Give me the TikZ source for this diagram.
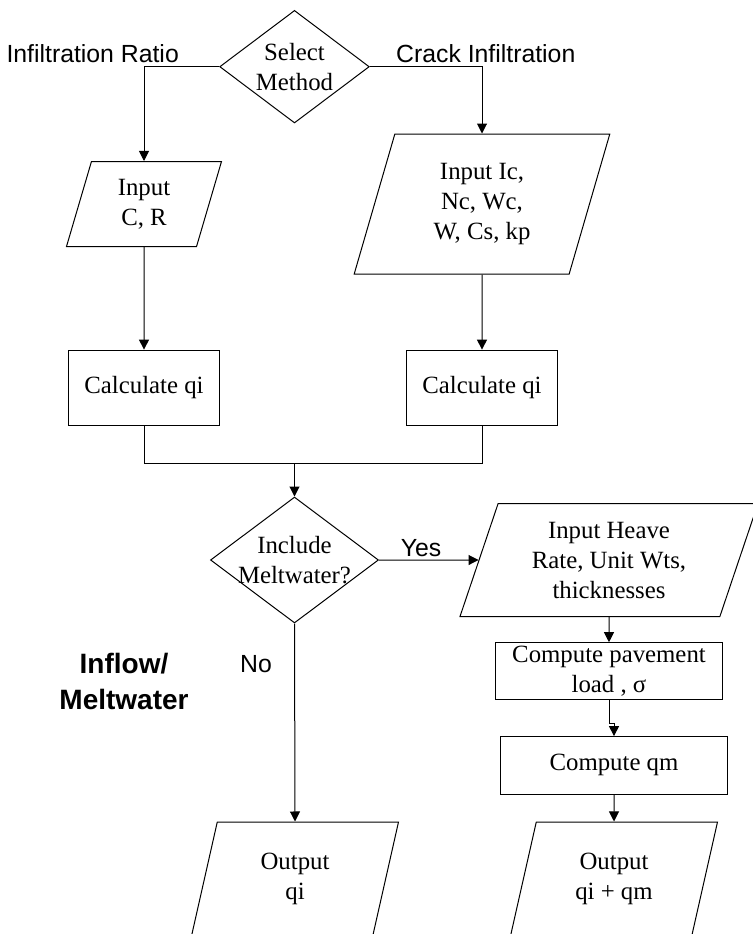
\documentclass[tikz,border=0pt]{standalone}
\usepackage{fontspec}
\setmainfont{Liberation Serif}
\setsansfont{Liberation Sans}
\usetikzlibrary{shapes.geometric,arrows.meta}

\begin{document}
\begin{tikzpicture}[
    x=0.5pt, y=-0.5pt,
    line width=0.5pt,
    every node/.style={font=\fontsize{12.4}{15}\selectfont, align=center},
    process/.style={draw, rectangle, inner sep=0pt},
    io/.style={draw, trapezium, trapezium left angle=63.5, trapezium right angle=116.5,
               trapezium stretches body, inner sep=0pt},
    decision/.style={draw, diamond, inner sep=0pt},
    lbl/.style={font=\sffamily\fontsize{12.4}{15}\selectfont},
    arr/.style={-{Triangle[length=5pt,width=5pt]}}]

\useasboundingbox (0,0) rectangle (752,934);

\node[decision, minimum width=74.8pt, minimum height=56.3pt] (sel) at (294.5,66.7) {};
\node (selTxt) at (sel) {Select\\Method};
\node[lbl, anchor=east] (ratio) at (186,54) {Infiltration Ratio};
\node[lbl, anchor=west] (crack) at (389,54) {Crack Infiltration};

\node[io, minimum width=77.5pt, minimum height=42.5pt] (incr) at (144,204) {Input\\C, R};
\node[io, minimum width=127.8pt, minimum height=70pt] (inic) at (482,204) {Input Ic,\\Nc, Wc,\\W, Cs, kp};

\node[process, minimum width=75.3pt, minimum height=37.6pt] (calcL) at (144,387.7) {Calculate qi};
\node[process, minimum width=75.3pt, minimum height=37.6pt] (calcR) at (482,387.7) {Calculate qi};
\coordinate (join) at (294.5,463.3);

\node[decision, minimum width=84pt, minimum height=63pt] (melt) at (294.5,560) {};
\node (meltTxt) at (melt) {Include\\Meltwater?};
\node[lbl] (yes) at (421,548) {Yes};
\node[lbl] (no) at (256,664) {No};
\node[lbl, font=\sffamily\bfseries\fontsize{14}{18}\selectfont] (inflow) at (124,681) {Inflow/\\Meltwater};

\node[io, minimum width=149pt, minimum height=56.5pt] (heave) at (609,560) {Input Heave\\Rate, Unit Wts,\\thicknesses};
\node[process, minimum width=113.9pt, minimum height=28.3pt] (pave) at (609,671) {Compute pavement\\load , σ};
\node[process, minimum width=113.9pt, minimum height=28.7pt] (qm) at (614,765.3) {Compute qm};

\node[io, minimum width=103.5pt, minimum height=57pt] (outqi) at (295,879) {Output\\qi};
\node[io, minimum width=103.5pt, minimum height=57pt] (outqm) at (614,879) {Output\\qi + qm};

\draw[arr] (sel.west) -| (incr.north);
\draw[arr] (sel.east) -| (inic.north);
\draw[arr] (incr.south) -- (calcL.north);
\draw[arr] (inic.south) -- (calcR.north);
\draw (calcL.south) |- (join) -| (calcR.south);
\draw[arr] (join) -- (melt.north);
\draw[arr] (melt.east) -- (heave.west);
\draw[arr] (melt.south) -- (outqi.north);
\draw[arr] (heave.south) -- (pave.north);
\draw[arr] (pave.south) -- ++(0,24) -| (qm.north);
\draw[arr] (qm.south) -- (outqm.north);

\end{tikzpicture}
\end{document}
